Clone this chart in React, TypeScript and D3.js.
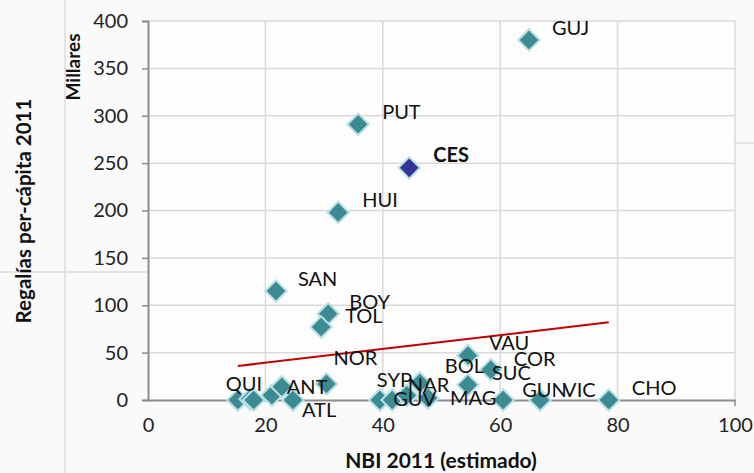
import * as d3 from 'd3'
import { useEffect, useRef } from 'react'

// departamentos (blank = unlabeled point)
const names = ['GUJ', 'PUT', 'CES', 'HUI', 'SAN', 'BOY', 'TOL', 'NOR', 'VAU', 'COR', 'SUC', 'BOL', 'MAG', 'GUN', 'VIC', 'CHO', 'QUI', '', '', '', 'ANT', 'ATL', 'SYP', 'GUV', 'NAR']
// NBI 2011 (estimado)
const nbi = [64.9, 35.8, 44.5, 32.4, 21.8, 30.7, 29.5, 30.4, 54.5, 58.4, 54.5, 46.3, 47.7, 60.5, 66.8, 78.5, 15.3, 17.4, 18.0, 21.1, 22.8, 24.7, 39.5, 41.6, 44.1]
// Regalías per-cápita 2011 (millares)
const regalias = [380, 291, 245, 198, 115, 91, 77, 17, 47, 32, 16, 18, 2, 0, 0, 0, 0, 1, 0, 5, 14, 0, 0, 0, 5]
const highlight = 'CES'

const xTicks = [0, 20, 40, 60, 80, 100]
const yTicks = [0, 50, 100, 150, 200, 250, 300, 350, 400]

// linear trend: y = a + b x
const trendIntercept = 24.7
const trendSlope = 0.73

// label placement relative to the marker (px)
const labelOffsets: Record<string, [number, number]> = {
  GUJ: [23, -12], PUT: [24, -12], CES: [24, -13], HUI: [24, -12], SAN: [22, -12],
  BOY: [21, -12], TOL: [24, -11], NOR: [7, -26], VAU: [21, -12], COR: [23, -11],
  SUC: [24, -12], BOL: [25, -17], MAG: [22, 0], GUN: [19, -10], VIC: [23, -10],
  CHO: [23, -12], QUI: [-12, -16], ANT: [5, 0], ATL: [9, 10], SYP: [-3, -20],
  GUV: [1, -1], NAR: [1, -10]
}

const FONT = "Lato, 'Open Sans', sans-serif"

const App = () => {
  const svgRef = useRef<SVGSVGElement>(null)

  useEffect(() => {
    const w = 754
    const h = 473
    const svg = d3.select(svgRef.current).attr('width', w).attr('height', h)
    svg.selectAll('*').remove()

    svg.append('rect').attr('width', w).attr('height', h).attr('fill', '#fafafa')

    // faint background frames from the source slide
    const deco = svg.append('g').attr('stroke', '#e4e4e4').attr('stroke-width', 2).attr('fill', 'none')
    deco.append('line').attr('x1', 65).attr('x2', 65).attr('y1', 0).attr('y2', h)
    deco.append('polyline').attr('points', '0,272 487,272 487,143 754,143')

    const x = d3.scaleLinear().domain([0, 100]).range([148, 735])
    const y = d3.scaleLinear().domain([0, 400]).range([400, 21])

    svg.append('rect').attr('x', x(0)).attr('y', y(400))
      .attr('width', x(100) - x(0)).attr('height', y(0) - y(400)).attr('fill', '#fdfdfd')

    // grid
    svg.append('g').selectAll('line').data(xTicks.filter(d => d > 0)).join('line')
      .attr('x1', d => x(d)).attr('x2', d => x(d)).attr('y1', y(0)).attr('y2', y(400))
      .attr('stroke', '#d9d9d9').attr('stroke-width', 1.5)
    svg.append('g').selectAll('line').data(yTicks.filter(d => d > 0)).join('line')
      .attr('x1', x(0)).attr('x2', x(100)).attr('y1', d => y(d)).attr('y2', d => y(d))
      .attr('stroke', '#d9d9d9').attr('stroke-width', 1.5)

    // axes
    const yAxis = svg.append('g').attr('transform', `translate(${x(0)},0)`)
      .call(d3.axisLeft(y).tickValues(yTicks).tickSize(6).tickPadding(14).tickFormat(d3.format('d')))
    const xAxis = svg.append('g').attr('transform', `translate(0,${y(0)})`)
      .call(d3.axisBottom(x).tickValues(xTicks).tickSize(0).tickPadding(18).tickFormat(d3.format('d')))
    for (const ax of [yAxis, xAxis]) {
      ax.select('.domain').attr('stroke', '#8c8c8c').attr('stroke-width', 2)
      ax.selectAll('.tick line').attr('stroke', '#8c8c8c').attr('stroke-width', 1.5)
      ax.selectAll('.tick text').attr('font-family', FONT).attr('font-size', 20).attr('fill', '#222')
    }
    xAxis.append('line').attr('x1', x(100)).attr('x2', x(100)).attr('y1', 0).attr('y2', 6)
      .attr('stroke', '#8c8c8c').attr('stroke-width', 1.5)

    // trend line
    const [xmin, xmax] = d3.extent(nbi) as [number, number]
    svg.append('line')
      .attr('x1', x(xmin)).attr('y1', y(trendIntercept + trendSlope * xmin))
      .attr('x2', x(xmax)).attr('y2', y(trendIntercept + trendSlope * xmax))
      .attr('stroke', '#c00000').attr('stroke-width', 2)

    // markers
    const points = names.map((n, i) => ({ name: n, nbi: nbi[i], reg: regalias[i] }))
    const diamond = d3.symbol().type(d3.symbolSquare).size(230)
    svg.append('g').selectAll('path').data(points).join('path')
      .attr('d', diamond)
      .attr('transform', d => `translate(${x(d.nbi)},${y(d.reg)}) rotate(45)`)
      .attr('fill', d => (d.name === highlight ? '#34349a' : '#3d8b92'))
      .attr('stroke', '#b9e0e4').attr('stroke-width', 2)

    // labels
    svg.append('g').selectAll('text').data(points.filter(d => d.name)).join('text')
      .attr('x', d => x(d.nbi) + labelOffsets[d.name][0])
      .attr('y', d => y(d.reg) + labelOffsets[d.name][1])
      .attr('dy', '0.35em')
      .attr('font-family', FONT).attr('font-size', 20)
      .attr('font-weight', d => (d.name === highlight ? 'bold' : 'normal'))
      .attr('fill', '#111')
      .text(d => d.name)

    // titles
    svg.append('text').attr('x', 441).attr('y', 468).attr('text-anchor', 'middle')
      .attr('font-family', FONT).attr('font-size', 21).attr('font-weight', 'bold').attr('fill', '#111')
      .text('NBI 2011 (estimado)')
    svg.append('text').attr('transform', 'translate(31,211) rotate(-90)').attr('text-anchor', 'middle')
      .attr('font-family', FONT).attr('font-size', 20.5).attr('font-weight', 'bold').attr('fill', '#111')
      .text('Regalías per-cápita 2011')
    svg.append('text').attr('transform', 'translate(80,67) rotate(-90)').attr('text-anchor', 'middle')
      .attr('font-family', FONT).attr('font-size', 19).attr('font-weight', 'bold').attr('fill', '#111')
      .text('Millares')
  }, [])

  return (
    <div>
      <svg ref={svgRef} style={{ position: 'absolute', left: 0, top: 0 }}></svg>
    </div>
  )
}

export default App
